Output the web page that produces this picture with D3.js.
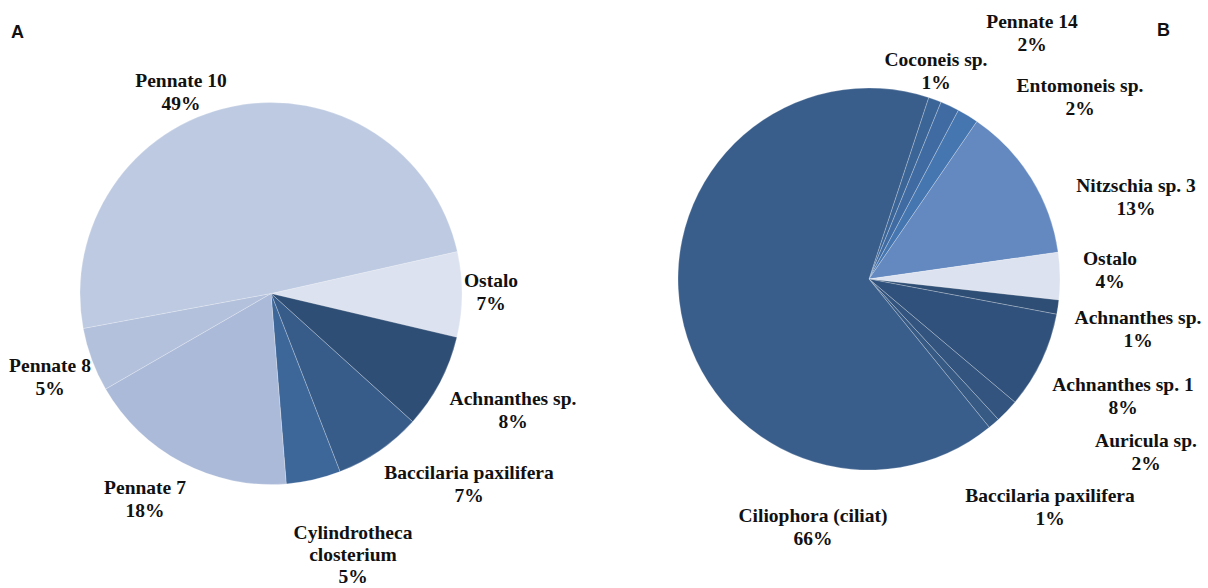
<!DOCTYPE html>
<html>
<head>
<meta charset="utf-8">
<script src="https://cdn.jsdelivr.net/npm/d3@7"></script>
<style>
  html, body { margin: 0; padding: 0; background: #fff; }
  svg { display: block; }
  .lbl { font-family: "Liberation Serif", "Times New Roman", serif; font-weight: bold; font-size: 19.5px; fill: #111; }
  .panel { font-family: "Liberation Sans", Arial, sans-serif; font-weight: bold; font-size: 18px; fill: #111; }
</style>
</head>
<body>
<svg id="chart" width="1208" height="588"></svg>
<script>
// ---- Panel A data ----
const catsA = ["Ostalo", "Achnanthes sp.", "Baccilaria paxilifera", "Cylindrotheca closterium", "Pennate 7", "Pennate 8", "Pennate 10"];
const valsA = [7.2, 8.0, 7.4, 4.6, 17.9, 5.4, 49.3];
const colorsA = ["#DCE2EF", "#2F4E76", "#375C8A", "#3D6699", "#ABBAD8", "#B3C1DC", "#BDCAE1"];

// ---- Panel B data ----
const catsB = ["Coconeis sp.", "Pennate 14", "Entomoneis sp.", "Nitzschia sp. 3", "Ostalo", "Achnanthes sp.", "Achnanthes sp. 1", "Auricula sp.", "Baccilaria paxilifera", "Ciliophora (ciliat)"];
const valsB = [1.1, 1.6, 1.8, 13.2, 4.0, 1.2, 8.2, 2.0, 1.0, 65.9];
const colorsB = ["#3B6597", "#3F6BA2", "#4676B0", "#6389C0", "#DCE2EF", "#2E4E75", "#30517B", "#32547F", "#375A85", "#3A5E8B"];

// ---- Layout (label anchor points, line-broken label text) ----
const layoutA = { cx: 271, cy: 293.5, r: 191, start: 77.3,
  labels: [[491, 280], [513, 398], [469, 472], [353, 532], [145, 487], [50, 365], [181, 80]],
  lines: [["Ostalo"], ["Achnanthes sp."], ["Baccilaria paxilifera"], ["Cylindrotheca", "closterium"], ["Pennate 7"], ["Pennate 8"], ["Pennate 10"]] };
const layoutB = { cx: 869, cy: 279, r: 191, start: 18.2,
  labels: [[936, 59], [1032, 21], [1080, 85], [1136, 185], [1110, 258], [1138, 317], [1123, 384], [1146, 440], [1050, 495], [813, 515]],
  lines: [["Coconeis sp."], ["Pennate 14"], ["Entomoneis sp."], ["Nitzschia sp. 3"], ["Ostalo"], ["Achnanthes sp."], ["Achnanthes sp. 1"], ["Auricula sp."], ["Baccilaria paxilifera"], ["Ciliophora (ciliat)"]] };

const svg = d3.select("#chart");

function drawPie(cats, vals, colors, L) {
  const data = cats.map((c, i) => ({ name: c, value: vals[i], color: colors[i], lines: L.lines[i], pos: L.labels[i] }));
  const a0 = L.start * Math.PI / 180;
  const pie = d3.pie().sort(null).value(d => d.value).startAngle(a0).endAngle(a0 + 2 * Math.PI);
  const arc = d3.arc().innerRadius(0).outerRadius(L.r);
  const g = svg.append("g").attr("transform", `translate(${L.cx},${L.cy})`);
  g.selectAll("path").data(pie(data)).join("path")
    .attr("d", arc)
    .attr("fill", d => d.data.color)
    .attr("stroke", "rgba(255,255,255,0.3)")
    .attr("stroke-width", 0.8);

  const total = d3.sum(vals);
  const lg = svg.append("g");
  data.forEach(d => {
    const lines = d.lines.concat([Math.round(d.value / total * 100) + "%"]);
    const gap = lines.length > 2 ? 22 : 23;
    const t = lg.append("text").attr("class", "lbl").attr("text-anchor", "middle");
    lines.forEach((s, j) => {
      t.append("tspan").attr("x", d.pos[0]).attr("y", d.pos[1] + j * gap).attr("dy", "0.35em").text(s);
    });
  });
}

drawPie(catsA, valsA, colorsA, layoutA);
drawPie(catsB, valsB, colorsB, layoutB);

svg.append("text").attr("class", "panel").attr("x", 11).attr("y", 38).text("A");
svg.append("text").attr("class", "panel").attr("x", 1157).attr("y", 36).text("B");
</script>
</body>
</html>
